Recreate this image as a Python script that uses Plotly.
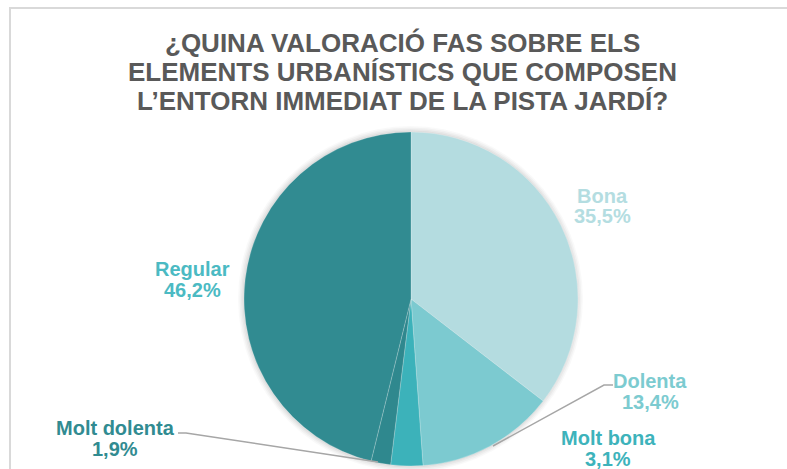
import plotly.graph_objects as go

W, H = 787, 469

categories = ["Bona", "Dolenta", "Molt bona", "Molt dolenta", "Regular"]
values = [35.5, 13.4, 3.1, 1.9, 46.2]
value_labels = ["35,5%", "13,4%", "3,1%", "1,9%", "46,2%"]
slice_colors = ["#b4dce0", "#7ccad0", "#3cb2ba", "#2f888e", "#318b91"]
label_colors = ["#b4dde1", "#7ccbd0", "#3db3bb", "#318b91", "#4bbac3"]
title_lines = [
    "¿QUINA VALORACIÓ FAS SOBRE ELS",
    "ELEMENTS URBANÍSTICS QUE COMPOSEN",
    "L’ENTORN IMMEDIAT DE LA PISTA JARDÍ?",
]

def px(x):
    return x / W

def py(y):
    return 1 - y / H

cx, cy, r = 411, 299, 167

fig = go.Figure()
fig.add_trace(go.Pie(
    labels=categories,
    values=values,
    sort=False,
    direction="clockwise",
    rotation=0,
    textinfo="none",
    hoverinfo="label+percent",
    marker=dict(colors=slice_colors, line=dict(color="rgba(255,255,255,0.35)", width=0.6)),
    domain=dict(x=[px(cx - r), px(cx + r)], y=[py(cy + r), py(cy - r)]),
    showlegend=False,
))

shapes = []
# chart frame (extends past right and bottom edges)
shapes.append(dict(type="rect", xref="paper", yref="paper",
                   x0=px(10), x1=px(W + 30), y0=py(8), y1=py(H + 30),
                   line=dict(color="#d9d9d9", width=2), fillcolor="rgba(0,0,0,0)", layer="below"))
# soft shadow
for i, a in enumerate([0.025, 0.03, 0.035, 0.04]):
    d = 6 - i * 1.5
    shapes.append(dict(type="circle", xref="paper", yref="paper",
                       x0=px(cx - r - d), x1=px(cx + r + d - 1),
                       y0=py(cy + r + d), y1=py(cy - r - d),
                       line=dict(width=0), fillcolor=f"rgba(0,0,0,{a})", layer="below"))
# leader lines
shapes.append(dict(type="path", xref="paper", yref="paper",
                   path=f"M {px(493)} {py(446)} L {px(604)} {py(385)} L {px(613)} {py(385)}",
                   line=dict(color="#a6a6a6", width=1.5)))
shapes.append(dict(type="path", xref="paper", yref="paper",
                   path=f"M {px(178)} {py(433)} L {px(186)} {py(433)} L {px(378)} {py(462)}",
                   line=dict(color="#a6a6a6", width=1.5)))

annotations = []
title_y = [43, 72, 101]
for line, yy in zip(title_lines, title_y):
    annotations.append(dict(text=line, x=px(402), y=py(yy), xref="paper", yref="paper",
                            showarrow=False, xanchor="center", yanchor="middle",
                            font=dict(family="Liberation Sans, Arial", size=26, color="#595959",
                                      weight="bold")))

label_pos = {
    "Bona": (602, 196),
    "Dolenta": (650, 381),
    "Molt bona": (608, 438),
    "Molt dolenta": (115, 428),
    "Regular": (192, 269),
}
for cat, vl, col in zip(categories, value_labels, label_colors):
    x0, y0 = label_pos[cat]
    for txt, yy in ((cat, y0), (vl, y0 + 20.5)):
        annotations.append(dict(text=txt, x=px(x0), y=py(yy), xref="paper", yref="paper",
                                showarrow=False, xanchor="center", yanchor="middle",
                                font=dict(family="Liberation Sans, Arial", size=20, color=col,
                                          weight="bold")))

fig.update_layout(
    width=W, height=H,
    margin=dict(l=0, r=0, t=0, b=0),
    paper_bgcolor="white",
    plot_bgcolor="white",
    shapes=shapes,
    annotations=annotations,
)

fig.write_html(
    "out.html",
    config={"displayModeBar": False},
    post_script="document.body.style.margin='0';document.body.style.overflow='hidden';",
)
